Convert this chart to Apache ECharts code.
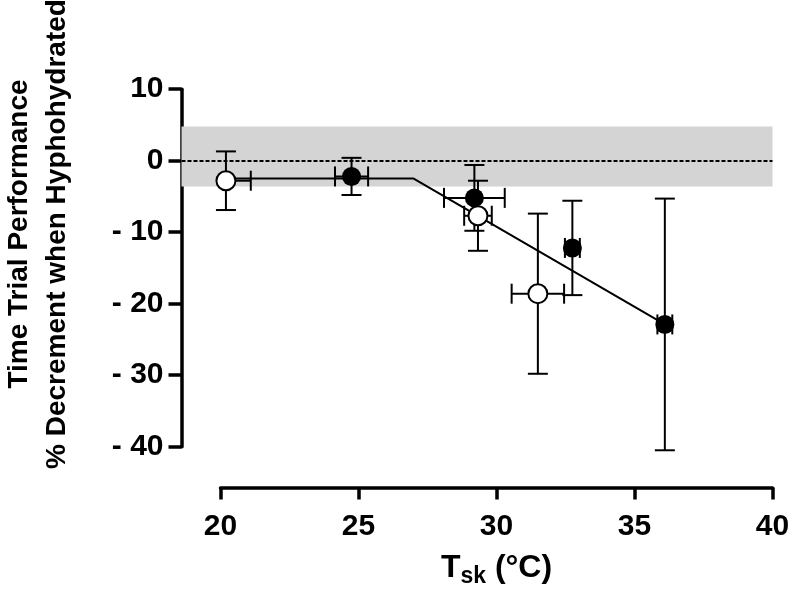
<!DOCTYPE html>
<html>
<head>
<meta charset="utf-8">
<script src="https://cdn.jsdelivr.net/npm/echarts@6/dist/echarts.min.js"></script>
<style>
html,body{margin:0;padding:0;background:#fff;}
#chart{width:796px;height:600px;}
</style>
</head>
<body>
<div id="chart"></div>
<script>
// ---- data ----
const xTicks = [20, 25, 30, 35, 40];
const yTicks = [-40, -30, -20, -10, 0, 10];
// open circles: x, y, y error (±), x error minus, x error plus
const openX = [20.2, 29.33, 31.5];
const openY = [-2.8, -7.7, -18.6];
const openYErr = [4.1, 4.9, 11.2];
const openXErrMinus = [0, 0.5, 0.95];
const openXErrPlus = [0.9, 0.5, 0.95];
// filled circles
const fillX = [24.75, 29.2, 32.75, 36.1];
const fillY = [-2.2, -5.2, -12.2, -22.9];
const fillYErr = [2.6, 4.6, 6.6, 17.6];
const fillXErrMinus = [0.6, 1.1, 0.27, 0.27];
const fillXErrPlus = [0.6, 1.1, 0.27, 0.27];
// fitted broken-stick line
const fitX = [20.2, 27.0, 36.1];
const fitY = [-2.5, -2.5, -22.9];
// shaded band (typical error range) and zero line
const bandLow = -3.6;
const bandHigh = 4.8;
const zeroLine = 0;
const dataXMin = 18.59;

const FONT = '"Liberation Sans", Arial, Helvetica, sans-serif';

function errData(xs, ys, ye, xm, xp) {
  return xs.map((x, i) => [x, ys[i], ye[i], xm[i], xp[i]]);
}

function renderErr(params, api) {
  const x = api.value(0), y = api.value(1), ye = api.value(2), xm = api.value(3), xp = api.value(4);
  const c = api.coord([x, y]);
  const top = api.coord([x, y + ye]);
  const bot = api.coord([x, y - ye]);
  const left = api.coord([x - xm, y]);
  const right = api.coord([x + xp, y]);
  const cap = 10;
  const st = {stroke: '#000', lineWidth: 2};
  const ch = [
    {type: 'line', shape: {x1: c[0], y1: top[1], x2: c[0], y2: bot[1]}, style: st},
    {type: 'line', shape: {x1: c[0] - cap, y1: top[1], x2: c[0] + cap, y2: top[1]}, style: st},
    {type: 'line', shape: {x1: c[0] - cap, y1: bot[1], x2: c[0] + cap, y2: bot[1]}, style: st}
  ];
  if (xm > 0 || xp > 0) {
    ch.push({type: 'line', shape: {x1: left[0], y1: c[1], x2: right[0], y2: c[1]}, style: st});
  }
  if (xm > 0) ch.push({type: 'line', shape: {x1: left[0], y1: c[1] - cap, x2: left[0], y2: c[1] + cap}, style: st});
  if (xp > 0) ch.push({type: 'line', shape: {x1: right[0], y1: c[1] - cap, x2: right[0], y2: c[1] + cap}, style: st});
  return {type: 'group', children: ch};
}

const chart = echarts.init(document.getElementById('chart'), null, {renderer: 'canvas'});
chart.setOption({
  animation: false,
  backgroundColor: '#fff',
  textStyle: {fontFamily: FONT},
  grid: [
    {left: 181.5, right: 23.5, top: 89.2, bottom: 153.3, containLabel: false},
    {left: 220.5, right: 23.5, top: 486, height: 1.5, containLabel: false}
  ],
  xAxis: [
    {gridIndex: 0, type: 'value', min: dataXMin, max: xTicks[xTicks.length - 1], show: false},
    {
      gridIndex: 1, type: 'value', min: xTicks[0], max: xTicks[xTicks.length - 1], interval: 5,
      position: 'bottom',
      axisLine: {show: true, lineStyle: {color: '#000', width: 3.5}},
      axisTick: {show: true, inside: false, length: 12, lineStyle: {color: '#000', width: 3.5}},
      axisLabel: {color: '#000', fontSize: 30, fontWeight: 'bold', fontFamily: FONT, margin: 24},
      splitLine: {show: false},
      name: 'T{sub|sk} (°C)',
      nameLocation: 'middle',
      nameGap: 60,
      nameTextStyle: {
        color: '#000', fontSize: 32, fontWeight: 'bold', fontFamily: FONT,
        rich: {sub: {fontSize: 23, fontWeight: 'bold', fontFamily: FONT, color: '#000', padding: [18, 0, 0, 0], verticalAlign: 'bottom'}}
      }
    }
  ],
  yAxis: [
    {
      gridIndex: 0, type: 'value', min: yTicks[0], max: yTicks[yTicks.length - 1], interval: 10,
      axisLine: {show: true, lineStyle: {color: '#000', width: 3.5}},
      axisTick: {show: true, inside: false, length: 13, lineStyle: {color: '#000', width: 3.5}},
      axisLabel: {
        color: '#000', fontSize: 30, fontWeight: 'bold', fontFamily: FONT, margin: 18,
        formatter: v => (v < 0 ? '- ' + Math.abs(v) : String(v))
      },
      splitLine: {show: false}
    },
    {gridIndex: 1, type: 'value', min: 0, max: 1, show: false}
  ],
  graphic: [
    {
      type: 'text',
      x: 38, y: 234,
      rotation: Math.PI / 2,
      style: {
        text: 'Time Trial Performance\n% Decrement when Hyphohydrated',
        font: 'bold 28px ' + FONT,
        fill: '#000',
        align: 'center',
        verticalAlign: 'middle',
        lineHeight: 38
      }
    }
  ],
  series: [
    {
      type: 'line',
      xAxisIndex: 0, yAxisIndex: 0,
      data: fitX.map((x, i) => [x, fitY[i]]),
      symbol: 'none',
      lineStyle: {color: '#000', width: 2},
      z: 2,
      silent: true,
      markArea: {
        silent: true,
        itemStyle: {color: '#d4d4d4'},
        data: [[{yAxis: bandLow}, {yAxis: bandHigh}]]
      },
      markLine: {
        silent: true,
        symbol: 'none',
        label: {show: false},
        lineStyle: {color: '#000', width: 2, type: [4, 2]},
        data: [{yAxis: zeroLine}]
      }
    },
    {
      type: 'custom',
      xAxisIndex: 0, yAxisIndex: 0,
      renderItem: renderErr,
      data: errData(openX, openY, openYErr, openXErrMinus, openXErrPlus),
      z: 3, silent: true
    },
    {
      type: 'custom',
      xAxisIndex: 0, yAxisIndex: 0,
      renderItem: renderErr,
      data: errData(fillX, fillY, fillYErr, fillXErrMinus, fillXErrPlus),
      z: 3, silent: true
    },
    {
      type: 'scatter',
      xAxisIndex: 0, yAxisIndex: 0,
      data: openX.map((x, i) => [x, openY[i]]),
      symbol: 'circle', symbolSize: 19,
      itemStyle: {color: '#fff', borderColor: '#000', borderWidth: 2, opacity: 1},
      z: 4, silent: true
    },
    {
      type: 'scatter',
      xAxisIndex: 0, yAxisIndex: 0,
      data: fillX.map((x, i) => [x, fillY[i]]),
      symbol: 'circle', symbolSize: 19,
      itemStyle: {color: '#000', opacity: 1},
      z: 4, silent: true
    }
  ]
});
</script>
</body>
</html>
